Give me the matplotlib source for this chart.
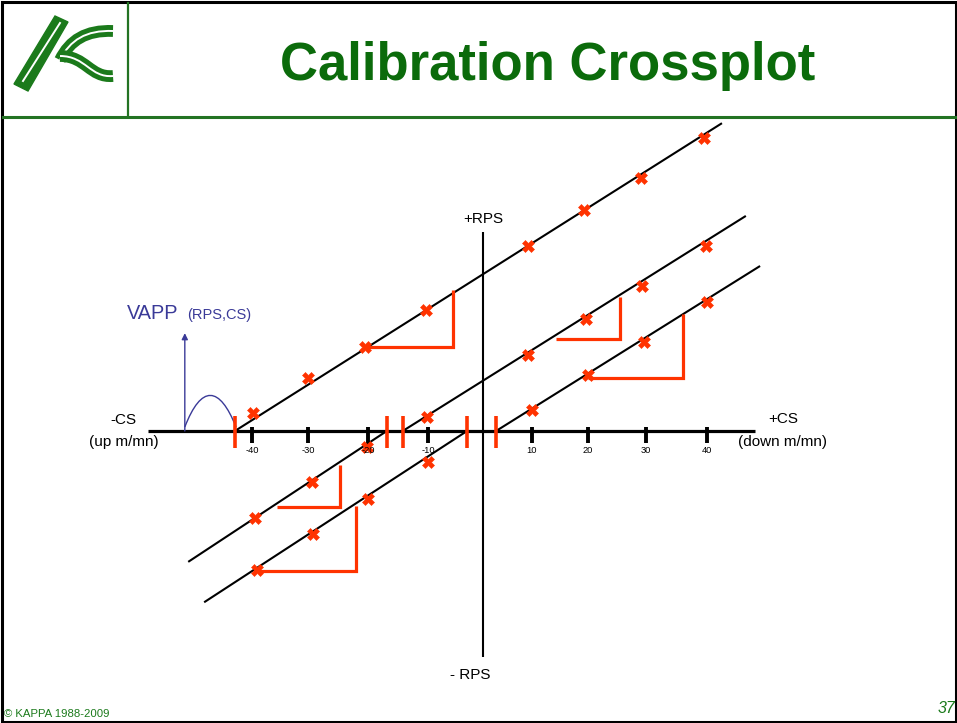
import numpy as np
import matplotlib
matplotlib.use("Agg")
import matplotlib.pyplot as plt
from matplotlib.path import Path
from matplotlib.patches import PathPatch, Polygon
from matplotlib.lines import Line2D

plt.rcParams["font.family"] = ["Liberation Sans", "DejaVu Sans"]

W, H = 957, 723
GREEN = "#0b6b0b"
LINE_GREEN = "#237323"
RED = "#ff3300"
BLUE = "#3a3a98"

# ---------- crossplot values (CS in m/mn, RPS) ----------
# the sketch is not drawn to a uniform scale, so each tick keeps its own position
cs_tick_labels = [-40, -30, -20, -10, 10, 20, 30, 40]
cs_tick_pos = [-39.9, -30.05, -19.5, -8.96, 9.31, 19.16, 29.35, 40.07]

# calibration lines: (cs start, cs end), (rps start, rps end)
up1_cs, up1_rps = [-42.9, 42.7], [0.0, 54.1]
up2_cs, up2_rps = [-13.4, 46.9], [0.0, 37.8]
up3_cs, up3_rps = [3.0, 49.4], [0.0, 29.0]
down2_cs, down2_rps = [-51.1, -16.2], [-23.0, 0.0]
down3_cs, down3_rps = [-48.3, -2.1], [-30.1, 0.0]

# spinner thresholds (line intercepts on CS axis)
threshold_cs = [-42.9, -16.2, -13.4, -2.1, 3.0]

# measured passes
pts1_cs = [-39.7, -30.1, -20.0, -9.3, 8.6, 18.5, 28.5, 39.5]
pts1_rps = [3.2, 9.3, 14.8, 21.3, 32.5, 38.8, 44.5, 51.5]
pts2_cs = [-9.1, 8.6, 18.8, 28.6, 39.9]
pts2_rps = [2.5, 13.4, 19.7, 25.5, 32.5]
pts3_cs = [9.3, 19.2, 29.0, 40.1]
pts3_rps = [3.7, 9.8, 15.6, 22.7]
pts2d_cs = [-39.4, -29.3, -19.7]
pts2d_rps = [-15.3, -9.0, -2.8]
pts3d_cs = [-39.0, -29.2, -19.5, -9.0]
pts3d_rps = [-24.4, -18.1, -12.0, -5.4]

# slope brackets: (cs left, cs right), (rps bottom, rps top)
brackets = [
    ([-20.0, -4.6], [14.7, 24.8]),
    ([13.5, 24.8], [16.2, 23.6]),
    ([19.2, 35.9], [9.3, 20.6]),
    ([-35.5, -24.4], [-13.4, -6.0]),
    ([-39.0, -21.6], [-24.6, -13.2]),
]


def fx(x, y):
    return x / W, 1 - y / H


fig = plt.figure(figsize=(W / 100, H / 100), dpi=100)
fig.patch.set_facecolor("white")

# main drawing area, 5.69 px per unit on both axes
ax = fig.add_axes([0, 0, 1, 1])
ax.set_xlim(-84.18, 84.01)
ax.set_ylim(-51.32, 75.75)
ax.axis("off")

for xs, ys in [(up1_cs, up1_rps), (up2_cs, up2_rps), (up3_cs, up3_rps),
               (down2_cs, down2_rps), (down3_cs, down3_rps)]:
    ax.plot(xs, ys, color="black", lw=1.5, solid_capstyle="butt")

# axes cross
ax.plot([-58.2, 48.5], [0, 0], color="black", lw=2.3, solid_capstyle="butt")
ax.plot([0.7, 0.7], [-39.7, 35.0], color="black", lw=1.5, solid_capstyle="butt")
for pos, lab in zip(cs_tick_pos, cs_tick_labels):
    ax.plot([pos, pos], [0.7, -2.1], color="black", lw=2.8, solid_capstyle="butt")
    ax.text(pos, -3.9, str(lab), ha="center", va="baseline", fontsize=6.7)

for xs, ys in brackets:
    ax.plot([xs[0], xs[1], xs[1]], [ys[0], ys[0], ys[1]], color=RED, lw=2.3,
            solid_capstyle="butt", solid_joinstyle="miter")

for t in threshold_cs:
    ax.plot([t, t], [2.6, -3.0], color=RED, lw=2.6, solid_capstyle="butt")

for xs, ys in [(pts1_cs, pts1_rps), (pts2_cs, pts2_rps), (pts3_cs, pts3_rps),
               (pts2d_cs, pts2d_rps), (pts3d_cs, pts3d_rps)]:
    ax.plot(xs, ys, ls="none", marker="X", ms=8, color=RED, mec=RED, mew=0.4)

# apparent velocity sketch
hump = Path([(-51.7, 0.7), (-48.8, 8.2), (-45.6, 8.0), (-42.7, 0.7)],
            [Path.MOVETO, Path.CURVE4, Path.CURVE4, Path.CURVE4])
ax.add_patch(PathPatch(hump, fc="none", ec=BLUE, lw=1.0))
ax.annotate("", xy=(-51.7, 17.2), xytext=(-51.7, 0.0),
            arrowprops=dict(arrowstyle="-|>", color=BLUE, lw=1.0,
                            mutation_scale=9, shrinkA=0, shrinkB=0))

# axis labels
fig.text(*fx(483, 223), "+RPS", ha="center", va="baseline", fontsize=11)
fig.text(*fx(470, 679), "- RPS", ha="center", va="baseline", fontsize=11)
fig.text(*fx(123, 424), "-CS", ha="center", va="baseline", fontsize=11)
fig.text(*fx(124, 446), "(up m/mn)", ha="center", va="baseline", fontsize=11)
fig.text(*fx(783, 423), "+CS", ha="center", va="baseline", fontsize=11)
fig.text(*fx(783, 446), "(down m/mn)", ha="center", va="baseline", fontsize=11)
fig.text(*fx(127, 319), "VAPP", ha="left", va="baseline", fontsize=14.3, color=BLUE)
fig.text(*fx(187, 319), "(RPS,CS)", ha="left", va="baseline", fontsize=10.5, color=BLUE)

# slide header
fig.text(*fx(548, 80), "Calibration Crossplot", ha="center", va="baseline",
         fontsize=38, fontweight="bold", color=GREEN)
fig.add_artist(Line2D([3 / W, 1], [1 - 117 / H] * 2, color=LINE_GREEN, lw=2.2,
                      transform=fig.transFigure))
fig.add_artist(Line2D([128 / W] * 2, [1 - 3 / H, 1 - 117 / H], color=LINE_GREEN,
                      lw=1.6, transform=fig.transFigure))

# logo
lg = fig.add_axes([3 / W, 1 - 116 / H, 124 / W, 113 / H])
lg.set_xlim(3, 127)
lg.set_ylim(116, 3)
lg.axis("off")
LOGO = "#1b7a1b"
lg.add_patch(Polygon([(14, 84), (55, 16), (68, 22), (28, 91)], closed=True,
                     fc=LOGO, ec=LOGO, lw=1))
lg.plot([23, 60], [81, 23], color="white", lw=1.4)
arm_up = Path([(60, 60), (70, 40), (86, 30), (113, 31)],
              [Path.MOVETO, Path.CURVE4, Path.CURVE4, Path.CURVE4])
arm_dn = Path([(60, 56), (86, 56), (90, 78), (113, 76)],
              [Path.MOVETO, Path.CURVE4, Path.CURVE4, Path.CURVE4])
for p in (arm_up, arm_dn):
    lg.add_patch(PathPatch(p, fc="none", ec=LOGO, lw=8.5, capstyle="butt"))
    lg.add_patch(PathPatch(p, fc="none", ec="white", lw=1.4, capstyle="butt"))

# footer
fig.text(*fx(4, 717), "\u00a9 KAPPA 1988-2009", ha="left", va="baseline",
         fontsize=8.2, color=LOGO)
fig.text(*fx(955, 713), "37", ha="right", va="baseline", fontsize=11.5,
         style="italic", color=LOGO)

# slide border
fig.add_artist(plt.Rectangle((1.5 / W, 1.5 / H), 1 - 3 / W, 1 - 3 / H, fill=False,
                             ec="black", lw=2.2, transform=fig.transFigure))

fig.savefig("out.png", dpi=100)
